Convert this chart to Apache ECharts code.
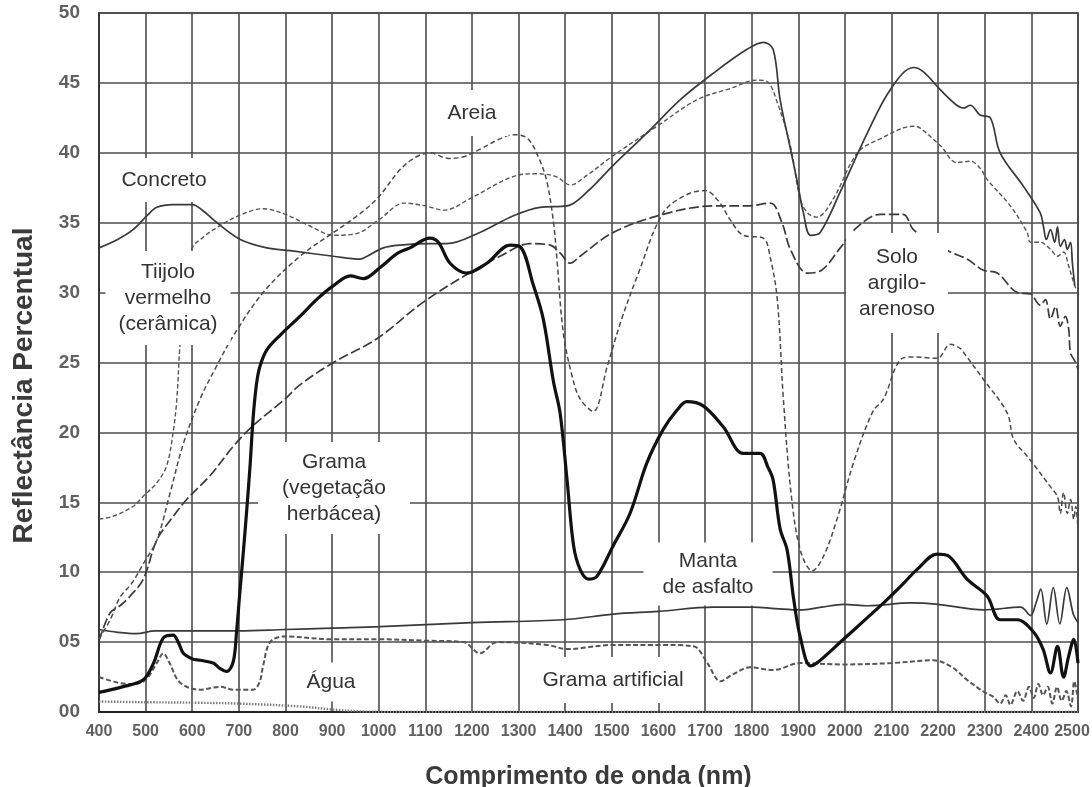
<!DOCTYPE html>
<html>
<head>
<meta charset="utf-8">
<script src="https://cdn.jsdelivr.net/npm/echarts@6/dist/echarts.min.js"></script>
<style>
html,body{margin:0;padding:0;background:#fff;}
#chart{width:1092px;height:787px;}
</style>
</head>
<body>
<div id="chart"></div>
<script>
// Wavelength (nm) / reflectance (%) pairs
var concreto = [[400,33.2],[440,33.8],[473,34.5],[503,35.5],[524,36.1],[559,36.3],[600,36.3],[625,35.8],[653,35.0],[703,33.8],[760,33.2],[810,33.0],[903,32.6],[960,32.4],[975,32.6],[1010,33.2],[1046,33.4],[1110,33.5],[1146,33.5],[1217,34.3],[1289,35.5],[1346,36.1],[1404,36.2],[1447,37.2],[1503,39.1],[1575,41.4],[1647,43.8],[1718,45.7],[1790,47.4],[1825,47.9],[1846,47.4],[1861,43.8],[1883,40.3],[1898,37.9],[1911,35.7],[1926,34.1],[1947,34.3],[1990,37.2],[2048,41.4],[2097,44.5],[2147,46.1],[2168,45.8],[2205,44.5],[2240,43.4],[2255,43.2],[2269,43.4],[2290,42.7],[2312,42.5],[2333,40.0],[2383,37.6],[2419,35.7],[2426,34.7],[2432,33.8],[2441,34.5],[2450,33.6],[2456,34.7],[2462,33.3],[2471,33.8],[2477,33.1],[2484,33.6],[2488,32.1],[2493,30.5]];
var tijolo = [[400,13.8],[430,14.0],[473,14.7],[494,15.4],[524,16.4],[545,17.6],[559,20.0],[567,22.4],[574,26.4],[588,31.0],[600,33.2],[625,34.0],[650,34.6],[700,35.5],[752,36.0],[800,35.6],[850,34.8],[903,34.1],[950,34.2],[1000,35.2],[1055,36.4],[1100,36.2],[1140,35.9],[1200,36.8],[1288,38.3],[1340,38.5],[1380,38.3],[1411,37.7],[1447,38.4],[1503,39.8],[1597,41.9],[1683,43.8],[1754,44.6],[1811,45.2],[1833,45.1],[1855,43.6],[1883,40.5],[1904,36.7],[1920,35.7],[1940,35.4],[1975,36.7],[2027,40.0],[2076,41.0],[2147,41.9],[2160,41.8],[2205,40.5],[2240,39.3],[2269,39.4],[2290,38.9],[2305,38.1],[2355,36.2],[2391,34.3],[2398,33.6],[2419,33.6],[2441,33.1],[2456,32.6],[2469,32.9],[2480,31.9],[2488,31.0],[2495,30.3]];
var areia = [[400,5.2],[424,6.6],[445,8.2],[470,9.2],[495,10.6],[524,12.3],[552,15.6],[581,19.2],[617,22.4],[650,24.6],[688,26.9],[752,30.0],[831,32.6],[903,34.3],[950,35.4],[996,36.7],[1046,38.8],[1080,39.7],[1110,40.0],[1150,39.6],[1180,39.7],[1220,40.3],[1260,41.0],[1290,41.3],[1320,41.0],[1345,39.5],[1361,37.9],[1375,35.0],[1383,32.1],[1396,27.1],[1415,24.0],[1432,22.4],[1460,21.5],[1490,24.7],[1520,28.0],[1555,31.2],[1610,35.7],[1660,37.0],[1700,37.3],[1730,36.5],[1754,35.2],[1782,34.1],[1825,33.9],[1840,32.5],[1855,29.5],[1868,22.4],[1885,15.5],[1905,11.5],[1930,10.1],[1955,11.2],[1985,14.0],[2020,18.0],[2060,21.5],[2083,22.4],[2119,25.2],[2147,25.4],[2198,25.3],[2226,26.3],[2248,26.0],[2255,25.7],[2297,23.8],[2348,21.4],[2362,19.5],[2391,18.3],[2412,17.4],[2441,16.1],[2456,15.4],[2462,14.2],[2469,15.7],[2477,14.2],[2484,15.2],[2491,13.8],[2495,14.7],[2500,13.1]];
var solo = [[400,5.1],[424,7.1],[445,7.6],[467,8.3],[495,9.5],[524,12.3],[555,13.8],[588,15.2],[638,16.9],[688,19.0],[731,20.5],[796,22.3],[831,23.4],[903,25.0],[996,26.7],[1095,29.3],[1189,31.3],[1260,32.6],[1325,33.5],[1368,33.4],[1390,32.8],[1411,32.1],[1432,32.6],[1503,34.3],[1610,35.6],[1718,36.2],[1790,36.2],[1840,36.4],[1865,35.0],[1883,33.1],[1919,31.4],[1950,31.6],[1990,33.2],[2027,34.7],[2076,35.6],[2125,35.6],[2147,34.5],[2190,33.6],[2226,32.9],[2262,32.4],[2297,31.6],[2327,31.4],[2370,30.0],[2398,29.9],[2419,29.1],[2430,29.5],[2441,28.1],[2452,29.0],[2462,27.6],[2473,28.3],[2480,27.4],[2484,25.7],[2495,25.0],[2500,24.5]];
var grama = [[400,1.4],[450,1.8],[495,2.3],[517,3.5],[538,5.3],[559,5.5],[570,5.0],[581,4.2],[600,3.8],[617,3.7],[645,3.5],[660,3.1],[674,2.9],[688,3.6],[695,5.7],[702,8.5],[710,11.6],[717,14.5],[724,17.6],[731,21.2],[738,23.5],[745,24.7],[760,25.9],[790,27.0],[831,28.3],[870,29.6],[903,30.5],[939,31.2],[967,31.0],[1003,31.8],[1040,32.8],[1067,33.2],[1110,33.9],[1128,33.6],[1153,32.1],[1189,31.4],[1232,32.1],[1282,33.4],[1303,33.3],[1332,30.5],[1353,28.1],[1375,23.6],[1389,21.4],[1404,16.6],[1418,11.9],[1432,10.2],[1450,9.5],[1468,9.7],[1503,11.9],[1539,14.2],[1575,17.8],[1610,20.2],[1640,21.6],[1661,22.2],[1696,21.9],[1739,20.4],[1782,18.5],[1818,18.5],[1835,17.5],[1846,16.6],[1861,13.1],[1876,11.6],[1890,8.1],[1904,5.4],[1926,3.3],[1940,3.5],[1997,5.2],[2040,6.5],[2083,7.8],[2120,9.0],[2155,10.2],[2198,11.3],[2220,11.2],[2262,9.5],[2305,8.3],[2333,6.6],[2370,6.6],[2405,5.7],[2425,4.5],[2441,2.8],[2456,4.7],[2469,2.5],[2480,4.0],[2491,5.2],[2500,3.5]];
var manta = [[400,5.9],[440,5.7],[480,5.6],[520,5.8],[600,5.8],[700,5.8],[800,5.9],[900,6.0],[1003,6.1],[1200,6.4],[1396,6.6],[1503,7.0],[1600,7.2],[1718,7.5],[1803,7.5],[1850,7.4],[1904,7.3],[1950,7.5],[1997,7.7],[2050,7.6],[2141,7.8],[2200,7.7],[2298,7.3],[2377,7.5],[2398,6.9],[2410,7.8],[2420,8.8],[2433,6.3],[2447,8.9],[2461,6.3],[2476,8.9],[2490,7.0],[2500,6.4]];
var gramaArtificial = [[400,2.5],[440,2.1],[473,2.0],[500,2.3],[524,3.5],[538,4.2],[550,3.6],[574,2.1],[617,1.6],[660,1.8],[688,1.6],[731,1.6],[745,2.2],[752,3.3],[767,5.0],[796,5.4],[903,5.2],[1003,5.2],[1100,5.1],[1182,5.0],[1217,4.2],[1254,5.0],[1361,4.8],[1404,4.5],[1503,4.8],[1600,4.8],[1675,4.7],[1705,3.5],[1733,2.2],[1760,2.7],[1797,3.2],[1846,3.0],[1904,3.5],[1997,3.4],[2100,3.5],[2190,3.7],[2230,3.2],[2262,2.3],[2300,1.4],[2318,1.1],[2333,0.6],[2345,1.2],[2355,0.5],[2370,1.5],[2382,0.8],[2395,1.8],[2405,1.0],[2415,2.0],[2425,1.2],[2435,1.8],[2445,0.6],[2455,1.8],[2465,0.8],[2475,1.5],[2485,0.4],[2492,2.2],[2497,1.5],[2500,0.9]];
var agua = [[400,0.75],[500,0.7],[617,0.66],[700,0.6],[831,0.4],[903,0.17],[975,0.03],[1100,0.0],[1500,0.0],[2000,0.0],[2500,0.0]];

var yTickLabels = ['00','05','10','15','20','25','30','35','40','45','50'];

// Annotations: [text, x px, y px, padding]
var annotations = [
  ['Concreto', 164, 180, [9, 12]],
  ['Tiijolo\nvermelho\n(cerâmica)', 168, 298, [8, 13]],
  ['Areia', 472, 113, [10, 12]],
  ['Solo\nargilo-\narenoso', 897, 283, [11, 13]],
  ['Grama\n(vegetação\nherbácea)', 334, 488, [7, 24]],
  ['Manta\nde asfalto', 708, 574, [8, 19, 3, 19]],
  ['Grama artificial', 613, 680, [10, 13]],
  ['Água', 331, 682, [9, 12, 4, 12]]
];

var chart = echarts.init(document.getElementById('chart'), null, {renderer: 'canvas'});
var FONT = '"Liberation Sans", Arial, sans-serif';

function lineSeries(name, data, color, width, type, z) {
  return {
    name: name, type: 'line', data: data, showSymbol: false, symbol: 'none',
    smooth: 0.35, z: z || 3, silent: true,
    lineStyle: {color: color, width: width, type: type}
  };
}

var option = {
  backgroundColor: '#fff',
  animation: false,
  grid: {left: 99, right: 14, top: 13, bottom: 75, containLabel: false, outerBoundsMode: 'none',
    show: true, borderColor: '#333', borderWidth: 1.6, backgroundColor: 'transparent'},
  xAxis: {
    type: 'value', min: 400, max: 2500, interval: 100,
    name: 'Comprimento de onda (nm)', nameLocation: 'middle', nameGap: 53,
    nameTextStyle: {fontFamily: FONT, fontSize: 25, fontWeight: 'bold', color: '#3a3a3a'},
    axisLine: {show: true, lineStyle: {color: '#222', width: 1.8}},
    axisTick: {show: false},
    axisLabel: {fontFamily: FONT, fontSize: 16, fontWeight: 'bold', color: '#606060', margin: 12,
      showMaxLabel: true, showMinLabel: true, hideOverlap: false,
      formatter: function (v) { return v === 2500 ? '{last|2500}' : String(v); },
      rich: {last: {fontFamily: FONT, fontSize: 16, fontWeight: 'bold', color: '#606060', padding: [0, 12, 0, 0]}}},
    splitLine: {show: true, lineStyle: {color: '#4d4d4d', width: 1.6}}
  },
  yAxis: {
    type: 'value', min: 0, max: 50, interval: 5,
    name: 'Reflectância Percentual', nameLocation: 'middle', nameGap: 61, nameRotate: 90,
    nameTextStyle: {fontFamily: FONT, fontSize: 28, fontWeight: 'bold', color: '#3a3a3a', padding: [0, 46, 0, 0]},
    axisLine: {show: true, lineStyle: {color: '#333', width: 1.6}},
    axisTick: {show: false},
    axisLabel: {fontFamily: FONT, fontSize: 19, fontWeight: 'bold', color: '#606060', margin: 19,
      formatter: function (v) { return yTickLabels[Math.round(v / 5)]; }},
    splitLine: {show: true, lineStyle: {color: '#4d4d4d', width: 1.6}}
  },
  series: [
    lineSeries('Água', agua, '#7a7a7a', 2.4, [1.5, 1.5], 3),
    lineSeries('Grama artificial', gramaArtificial, '#555', 2.0, [5, 2.5], 3),
    lineSeries('Manta de asfalto', manta, '#3a3a3a', 1.7, 'solid', 3),
    lineSeries('Solo argilo-arenoso', solo, '#3a3a3a', 1.7, [10, 3.5], 3),
    lineSeries('Areia', areia, '#4a4a4a', 1.5, [5, 3], 3),
    lineSeries('Tijolo vermelho', tijolo, '#555', 1.4, [4.5, 2.5], 3),
    lineSeries('Concreto', concreto, '#3a3a3a', 1.7, 'solid', 3),
    lineSeries('Grama', grama, '#111', 3.2, 'solid', 4)
  ]
};

option.graphic = annotations.map(function (a) {
  return {
    type: 'text', z: 100, zlevel: 0, silent: true,
    style: {
      text: a[0], x: a[1], y: a[2],
      align: 'center', verticalAlign: 'middle',
      textAlign: 'center', textVerticalAlign: 'middle',
      font: '21px ' + FONT, lineHeight: 26, fill: '#333',
      backgroundColor: '#fff', padding: a[3]
    }
  };
});

chart.setOption(option);
</script>
</body>
</html>
